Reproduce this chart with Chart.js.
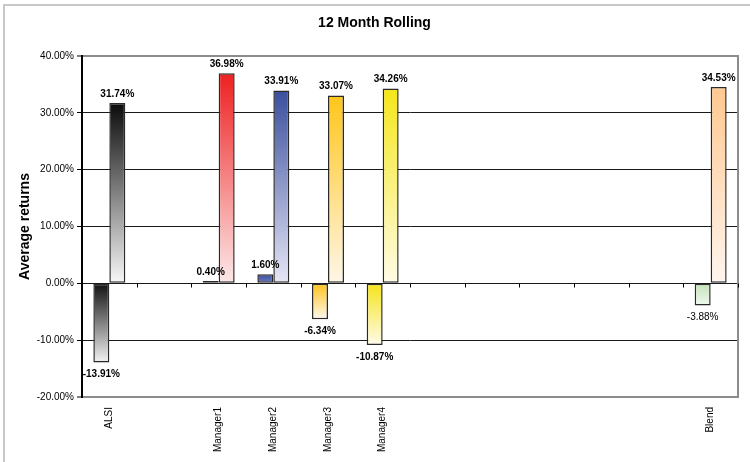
<!DOCTYPE html>
<html>
<head>
<meta charset="utf-8">
<script src="https://cdn.jsdelivr.net/npm/chart.js@4/dist/chart.umd.min.js"></script>
<style>
  html, body { margin: 0; padding: 0; background: #fff; }
  #wrap { width: 750px; height: 462px; position: relative; }
</style>
</head>
<body>
<div id="wrap"><canvas id="c" width="750" height="462"></canvas></div>
<script>
// ---- data ----
const categories = ['ALSI', '', 'Manager1', 'Manager2', 'Manager3', 'Manager4', '', '', '', '', '', 'Blend'];
const seriesA = [-13.91, null, 0.40, 1.60, -6.34, -10.87, null, null, null, null, null, -3.88];
const seriesB = [31.74, null, 36.98, 33.91, 33.07, 34.26, null, null, null, null, null, 34.53];
const yTicks = [-20, -10, 0, 10, 20, 30, 40];

// gradient colour pairs [dark end, light end]
const coloursA = [['#111111', '#f2f2f2'], null, ['#e8302a', '#f06a60'], ['#3a4f9e', '#6a7cc0'], ['#ffc21a', '#fffaf0'], ['#f5e41a', '#fffbea'], null, null, null, null, null, ['#c3e2b8', '#f0f9ee']];
const coloursB = [['#0a0a0a', '#f8f8f8'], null, ['#ee2020', '#fde9e9'], ['#3a4f9e', '#e6e6f5'], ['#ffc61a', '#fff6e8'], ['#f5e61a', '#fffce6'], null, null, null, null, null, ['#ffc890', '#fff5ee']];

function gradientFor(colours) {
  return function (ctx) {
    const chart = ctx.chart;
    const pair = colours[ctx.dataIndex] || ['#999', '#eee'];
    if (!chart.chartArea || ctx.raw == null) return pair[0];
    const y = chart.scales.y;
    const p0 = y.getPixelForValue(0);
    const p1 = y.getPixelForValue(ctx.raw);
    const top = Math.min(p0, p1), bottom = Math.max(p0, p1);
    const g = chart.ctx.createLinearGradient(0, top, 0, Math.max(bottom, top + 1));
    g.addColorStop(0, pair[0]);
    g.addColorStop(1, pair[1]);
    return g;
  };
}

const framePlugin = {
  id: 'frame',
  beforeDraw(chart) {
    const c = chart.ctx;
    c.save();
    c.fillStyle = '#fff';
    c.fillRect(0, 0, chart.width, chart.height);
    c.strokeStyle = '#c8c8c8';
    c.lineWidth = 2;
    c.strokeRect(4, 5, chart.width + 10, chart.height + 10);
    c.restore();
  },
  afterDraw(chart) {
    const c = chart.ctx, a = chart.chartArea, x = chart.scales.x, y = chart.scales.y;
    c.save();
    c.strokeStyle = '#8c8c8c';
    c.lineWidth = 2;
    c.beginPath();
    c.moveTo(a.right, a.top - 1);
    c.lineTo(a.right, a.bottom + 1);
    c.stroke();
    // category tick marks on the zero line
    const y0 = Math.round(y.getPixelForValue(0)) + 0.5;
    const w = x.getPixelForValue(1) - x.getPixelForValue(0);
    c.strokeStyle = '#000';
    c.lineWidth = 1;
    c.beginPath();
    for (let i = 1; i <= categories.length; i++) {
      const px = Math.round(x.getPixelForValue(i) - w / 2) + 0.5;
      c.moveTo(px, y0);
      c.lineTo(px, y0 + 4);
    }
    c.stroke();
    c.restore();
  },
  afterDatasetsDraw(chart) {
    const c = chart.ctx;
    c.save();
    c.fillStyle = '#000';
    c.textAlign = 'center';
    c.textBaseline = 'middle';
    chart.data.datasets.forEach((ds, i) => {
      const meta = chart.getDatasetMeta(i);
      meta.data.forEach((bar, j) => {
        const v = ds.data[j];
        if (v == null) return;
        const txt = v.toFixed(2) + '%';
        c.font = (j === 11 && v < 0 ? '' : 'bold ') + '10px "Liberation Sans", Arial, sans-serif';
        const ty = v >= 0 ? bar.y - 9 : bar.y + 12;
        c.fillText(txt, bar.x, ty);
      });
    });
    c.restore();
  }
};

new Chart(document.getElementById('c'), {
  type: 'bar',
  data: {
    labels: categories,
    datasets: [
      { label: 'Series A', data: seriesA, backgroundColor: gradientFor(coloursA), borderColor: '#2a2a2a', borderWidth: 1.5, borderSkipped: false },
      { label: 'Series B', data: seriesB, backgroundColor: gradientFor(coloursB), borderColor: '#2a2a2a', borderWidth: 1.5, borderSkipped: false }
    ]
  },
  options: {
    responsive: false,
    animation: false,
    events: [],
    layout: { padding: { left: 11, right: 12, top: 0, bottom: 0 } },
    datasets: { bar: { categoryPercentage: 0.585, barPercentage: 1.0 } },
    plugins: {
      legend: { display: false },
      tooltip: { enabled: false },
      title: {
        display: true,
        text: '12 Month Rolling',
        color: '#000',
        font: { family: '"Liberation Sans", Arial, sans-serif', size: 14, weight: 'bold' },
        padding: { top: 15, bottom: 24.2 }
      }
    },
    scales: {
      x: {
        offset: true,
        grid: { display: false, drawTicks: false },
        border: { display: false },
        ticks: {
          autoSkip: false, maxRotation: 90, minRotation: 90, padding: 10,
          color: '#000',
          font: { family: '"Liberation Sans", Arial, sans-serif', size: 10 }
        },
        afterFit(s) { s.height = 65; }
      },
      y: {
        min: -20, max: 40,
        afterBuildTicks(s) { s.ticks = yTicks.map(v => ({ value: v })); },
        ticks: {
          padding: 3,
          color: '#000',
          font: { family: '"Liberation Sans", Arial, sans-serif', size: 10 },
          callback: v => v.toFixed(2) + '%'
        },
        grid: {
          color: ctx => (ctx.tick && (ctx.tick.value === 40 || ctx.tick.value === -20)) ? '#8c8c8c' : '#1a1a1a',
          lineWidth: ctx => (ctx.tick && (ctx.tick.value === 40 || ctx.tick.value === -20)) ? 2 : 1,
          tickColor: '#000',
          tickLength: 5,
          tickWidth: 1
        },
        border: { display: true, color: '#000', width: 2 },
        title: {
          display: true,
          text: 'Average returns',
          color: '#000',
          font: { family: '"Liberation Sans", Arial, sans-serif', size: 14, weight: 'bold' },
          padding: { top: 5.6, bottom: 0 }
        },
        afterFit(s) { s.width = 71; }
      }
    }
  },
  plugins: [framePlugin]
});
</script>
</body>
</html>
